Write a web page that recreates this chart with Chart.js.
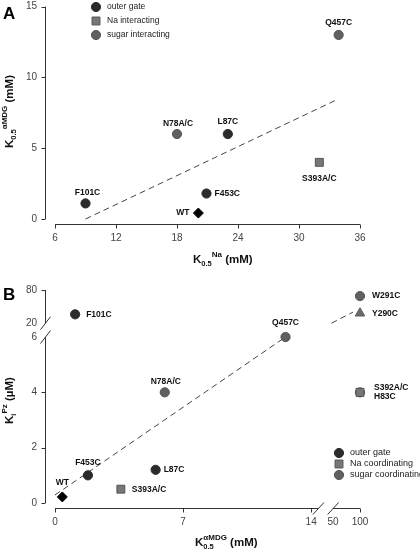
<!DOCTYPE html>
<html>
<head>
<meta charset="utf-8">
<title>K0.5 mutanti</title>
<script src="https://cdn.jsdelivr.net/npm/chart.js@4/dist/chart.umd.min.js"></script>
<style>
    body { margin: 0; background: #fff; }
    #contenitore { position: relative; width: 420px; height: 550px; }
    canvas { position: absolute; left: 0; }
    #graficoA { top: 0; }
    #graficoB { top: 270px; }
</style>
</head>
<body>
<div id="contenitore">
    <canvas id="graficoA" width="420" height="270"></canvas>
    <canvas id="graficoB" width="420" height="280"></canvas>
</div>
<script>
// ---------- pannello A: K0.5 aMDG contro K0.5 Na ----------
const gateA_nomi = ['F101C', 'L87C', 'F453C']
const gateA_x = [9.0, 23.0, 20.9]
const gateA_y = [1.1, 6.0, 1.8]

const naA_nomi = ['S393A/C']
const naA_x = [32.0]
const naA_y = [4.0]

const zuccheroA_nomi = ['N78A/C', 'Q457C']
const zuccheroA_x = [18.0, 33.9]
const zuccheroA_y = [6.0, 13.0]

const wtA_x = [20.1]
const wtA_y = [0.42]

const rettaA_x = [9.0, 33.8]
const rettaA_y = [0.0, 8.45]

const tickA_x = [6, 12, 18, 24, 30, 36]
const tickA_y = [0, 5, 10, 15]

// ---------- pannello B: Ki Pz contro K0.5 aMDG (assi spezzati) ----------
const gateB_nomi = ['F101C', 'F453C', 'L87C']
const gateB_x = [1.1, 1.8, 5.5]
const gateB_y = [36, 1.0, 1.2]

const naB_nomi = ['S393A/C', 'S392A/C']
const naB_x = [3.6, 100]
const naB_y = [0.5, 4.0]

const zuccheroB_nomi = ['N78A/C', 'Q457C', 'W291C', 'H83C']
const zuccheroB_x = [6.0, 12.6, 100, 100]
const zuccheroB_y = [4.0, 6.0, 69, 4.0]

const triangoloB_nomi = ['Y290C']
const triangoloB_x = [100]
const triangoloB_y = [38]

const wtB_x = [0.4]
const wtB_y = [0.22]

// retta tratteggiata in due pezzi (prima e dopo il salto)
const rettaB1_x = [0, 12.6]
const rettaB1_y = [0.29, 6.0]
const rettaB2_x = [47, 87]
const rettaB2_y = [20, 40]

const tickB_x = [0, 7, 14, 50, 100]
const tickB_y = [0, 2, 4, 6, 20, 80]

// salto degli assi: dopo 14 (x) e dopo 6 (y) la scala si comprime
function asseRottoX(v) { return v <= 14 ? v : 15.2 + (v - 50) * 1.47 / 50 }
function asseRottoY(v) { return v <= 6 ? v : 6.5 + (v - 20) * 1.2 / 60 }

const FONT = '"Liberation Sans", Arial, sans-serif'

const stili = {
    gate: { pointStyle: 'circle', radius: 4.6, colore: '#2b2b2b', bordo: '#2b2b2b' },
    na: { pointStyle: 'rect', radius: 5.6, colore: '#777777', bordo: '#555555' },
    zucchero: { pointStyle: 'circle', radius: 4.6, colore: '#606060', bordo: '#555555' },
    triangolo: { pointStyle: 'triangle', radius: 5.5, colore: '#6a6a6a', bordo: '#5a5a5a' },
    wt: { pointStyle: 'rectRot', radius: 5, colore: '#000000', bordo: '#000000' }
}

const posizioniA = {
    'F101C': [2, -11, 'center'],
    'N78A/C': [1, -10, 'center'],
    'L87C': [0, -12, 'center'],
    'Q457C': [0, -12, 'center'],
    'F453C': [8, 0, 'left'],
    'WT': [-9, 0, 'right'],
    'S393A/C': [0, 16, 'center']
}

const posizioniB = {
    'F101C': [11, 0, 'left'],
    'N78A/C': [1, -11, 'center'],
    'Q457C': [0, -14, 'center'],
    'W291C': [12, 0, 'left'],
    'Y290C': [12, 0, 'left'],
    'S392A/C': [14, -5, 'left'],
    'H83C': [14, 4, 'left'],
    'F453C': [0, -13, 'center'],
    'L87C': [8, 0, 'left'],
    'S393A/C': [11, 0, 'left'],
    'WT': [0, -14, 'center']
}

const ident = v => v

function punti(xs, ys, fx, fy) {
    fx = fx || ident
    fy = fy || ident
    return xs.map((x, i) => ({ x: fx(x), y: fy(ys[i]) }))
}

function serie(nomi, xs, ys, stile, fx, fy) {
    return {
        nomi: nomi,
        data: punti(xs, ys, fx, fy),
        pointStyle: stile.pointStyle,
        pointRadius: stile.radius,
        backgroundColor: stile.colore,
        borderColor: stile.bordo,
        borderWidth: 1,
        clip: false,
        order: 1
    }
}

function retta(xs, ys, fx, fy) {
    return {
        data: punti(xs, ys, fx, fy),
        showLine: true,
        borderColor: '#444',
        borderWidth: 1,
        borderDash: [6, 4],
        pointRadius: 0,
        fill: false,
        clip: false,
        order: 10
    }
}

// testo con pedici / apici, eventualmente ruotato
function testoComposto(ctx, t) {
    ctx.save()
    ctx.translate(t.x, t.y)
    if (t.ruota) ctx.rotate(-Math.PI / 2)
    ctx.fillStyle = '#111'
    ctx.textAlign = 'left'
    ctx.textBaseline = 'alphabetic'
    let cx = 0
    t.pezzi.forEach((p) => {
        ctx.font = 'bold ' + p[1] + 'px ' + FONT
        ctx.fillText(p[0], cx, p[2])
        if (p[3] != 'fermo')
            cx += ctx.measureText(p[0]).width
    })
    ctx.restore()
}

function simbolo(ctx, stile, x, y) {
    ctx.fillStyle = stile.colore
    ctx.strokeStyle = stile.bordo
    ctx.lineWidth = 1
    Chart.helpers.drawPoint(ctx, { pointStyle: stile.pointStyle, radius: stile.radius, borderWidth: 1, rotation: 0 }, x, y)
}

const assiPlugin = {
    id: 'assi',
    afterDraw(chart, args, o) {
        const ctx = chart.ctx
        const sx = chart.scales.x
        const sy = chart.scales.y
        const xa = chart.chartArea.left - 9.5
        const ya = chart.chartArea.bottom + 5.5

        const linea = (x1, y1, x2, y2) => {
            ctx.beginPath()
            ctx.moveTo(x1, y1)
            ctx.lineTo(x2, y2)
            ctx.stroke()
        }

        ctx.save()
        ctx.strokeStyle = '#333'
        ctx.lineWidth = 1

        o.segY.forEach((s) => linea(xa, sy.getPixelForValue(s[0]), xa, sy.getPixelForValue(s[1])))
        o.segX.forEach((s) => linea(sx.getPixelForValue(s[0]), ya, sx.getPixelForValue(s[1]), ya))

        o.tacY.forEach((v) => {
            const p = Math.round(sy.getPixelForValue(v)) + 0.5
            linea(xa - 4, p, xa, p)
        })
        o.tacX.forEach((v) => {
            const p = Math.round(sx.getPixelForValue(v)) + 0.5
            linea(p, ya, p, ya + 4)
        })

        const rotY = o.rotturaY || []
        rotY.forEach((v) => {
            const p = sy.getPixelForValue(v)
            linea(xa - 5, p + 6.5, xa + 5, p - 6.5)
        })
        const rotX = o.rotturaX || []
        rotX.forEach((v) => {
            const p = sx.getPixelForValue(v)
            linea(p - 5.5, ya + 6, p + 5.5, ya - 6)
        })

        // etichette dei tick
        ctx.fillStyle = '#444'
        ctx.font = '10px ' + FONT
        ctx.textAlign = 'right'
        ctx.textBaseline = 'middle'
        o.valY.forEach((v, i) => ctx.fillText(o.testiY[i], xa - 8.5, sy.getPixelForValue(v)))
        ctx.textAlign = 'center'
        o.valX.forEach((v, i) => ctx.fillText(o.testiX[i], sx.getPixelForValue(v), ya + 13.5))

        // titoli degli assi e lettera del pannello
        testoComposto(ctx, o.titoloX)
        testoComposto(ctx, o.titoloY)
        ctx.fillStyle = '#000'
        ctx.font = 'bold 17px ' + FONT
        ctx.textAlign = 'left'
        ctx.textBaseline = 'alphabetic'
        ctx.fillText(o.lettera.testo, o.lettera.x, o.lettera.y)

        // legenda
        const L = o.legenda
        L.voci.forEach((voce, i) => {
            const y = L.y + i * L.passo
            simbolo(ctx, voce[1], L.x, y)
            ctx.fillStyle = '#222'
            ctx.font = L.dim + 'px ' + FONT
            ctx.textAlign = 'left'
            ctx.textBaseline = 'middle'
            ctx.fillText(voce[0], L.x + 11, y)
        })
        ctx.restore()
    }
}

const etichettePlugin = {
    id: 'etichette',
    afterDatasetsDraw(chart, args, o) {
        const ctx = chart.ctx
        ctx.save()
        ctx.font = 'bold 8.5px ' + FONT
        ctx.fillStyle = '#111'
        ctx.textBaseline = 'middle'
        chart.data.datasets.forEach((ds, i) => {
            if (!ds.nomi) return
            chart.getDatasetMeta(i).data.forEach((el, j) => {
                const pos = o.posizioni[ds.nomi[j]]
                ctx.textAlign = pos[2]
                ctx.fillText(ds.nomi[j], el.x + pos[0], el.y + pos[1])
            })
        })
        ctx.restore()
    }
}

// ---------- grafico A ----------
new Chart(document.getElementById('graficoA'), {
    type: 'scatter',
    data: {
        datasets: [
            serie(gateA_nomi, gateA_x, gateA_y, stili.gate),
            serie(naA_nomi, naA_x, naA_y, stili.na),
            serie(zuccheroA_nomi, zuccheroA_x, zuccheroA_y, stili.zucchero),
            serie(['WT'], wtA_x, wtA_y, stili.wt),
            retta(rettaA_x, rettaA_y)
        ]
    },
    options: {
        responsive: false,
        animation: false,
        events: [],
        layout: { padding: { left: 55, right: 60, top: 6, bottom: 51 } },
        scales: {
            x: { type: 'linear', display: false, min: 6, max: 36 },
            y: { type: 'linear', display: false, min: 0, max: 15 }
        },
        plugins: {
            legend: { display: false },
            tooltip: { enabled: false },
            assi: {
                segY: [[0, 15]],
                segX: [[6, 36]],
                tacY: tickA_y,
                tacX: tickA_x,
                valY: tickA_y,
                testiY: tickA_y.map(String),
                valX: tickA_x,
                testiX: tickA_x.map(String),
                titoloX: { x: 193, y: 263, pezzi: [['K', 11.5, 0], ['0.5', 7.5, 3], ['Na', 8, -6], [' (mM)', 11.5, 0]] },
                titoloY: { x: 13, y: 148, ruota: true, pezzi: [['K', 11.5, 0], ['0.5', 7.5, 3], ['\u03B1MDG', 8, -6], [' (mM)', 11.5, 0]] },
                lettera: { testo: 'A', x: 3, y: 19 },
                legenda: {
                    x: 96, y: 7, passo: 14, dim: 8.5,
                    voci: [['outer gate', stili.gate], ['Na interacting', stili.na], ['sugar interacting', stili.zucchero]]
                }
            },
            etichette: { posizioni: posizioniA }
        }
    },
    plugins: [assiPlugin, etichettePlugin]
})

// ---------- grafico B ----------
new Chart(document.getElementById('graficoB'), {
    type: 'scatter',
    data: {
        datasets: [
            serie(gateB_nomi, gateB_x, gateB_y, stili.gate, asseRottoX, asseRottoY),
            serie(naB_nomi, naB_x, naB_y, stili.na, asseRottoX, asseRottoY),
            serie(zuccheroB_nomi, zuccheroB_x, zuccheroB_y, stili.zucchero, asseRottoX, asseRottoY),
            serie(triangoloB_nomi, triangoloB_x, triangoloB_y, stili.triangolo, asseRottoX, asseRottoY),
            serie(['WT'], wtB_x, wtB_y, stili.wt, asseRottoX, asseRottoY),
            retta(rettaB1_x, rettaB1_y, asseRottoX, asseRottoY),
            retta(rettaB2_x, rettaB2_y, asseRottoX, asseRottoY)
        ]
    },
    options: {
        responsive: false,
        animation: false,
        events: [],
        layout: { padding: { left: 55, right: 60, top: 20, bottom: 47 } },
        scales: {
            x: { type: 'linear', display: false, min: 0, max: asseRottoX(100) },
            y: { type: 'linear', display: false, min: 0, max: asseRottoY(80) }
        },
        plugins: {
            legend: { display: false },
            tooltip: { enabled: false },
            assi: {
                segY: [[0, 6], [asseRottoY(20), asseRottoY(80)]],
                segX: [[0, 14.4], [asseRottoX(50), asseRottoX(100)]],
                rotturaY: [6, asseRottoY(20)],
                rotturaX: [14.4, asseRottoX(50)],
                tacY: [0, 2, 4, asseRottoY(80)],
                tacX: [0, 7, 14, asseRottoX(100)],
                valY: tickB_y.map(asseRottoY),
                testiY: tickB_y.map(String),
                valX: tickB_x.map(asseRottoX),
                testiX: tickB_x.map(String),
                titoloX: { x: 195, y: 276, pezzi: [['K', 11.5, 0], ['0.5', 7.5, 3, 'fermo'], ['\u03B1MDG', 8, -6], [' (mM)', 11.5, 0]] },
                titoloY: { x: 13, y: 154, ruota: true, pezzi: [['K', 11.5, 0], ['i', 7.5, 3], ['Pz', 8, -6], [' (\u00B5M)', 11.5, 0]] },
                lettera: { testo: 'B', x: 3, y: 30 },
                legenda: {
                    x: 339, y: 183, passo: 11, dim: 9,
                    voci: [['outer gate', stili.gate], ['Na coordinating', stili.na], ['sugar coordinating', stili.zucchero]]
                }
            },
            etichette: { posizioni: posizioniB }
        }
    },
    plugins: [assiPlugin, etichettePlugin]
})
</script>
</body>
</html>
